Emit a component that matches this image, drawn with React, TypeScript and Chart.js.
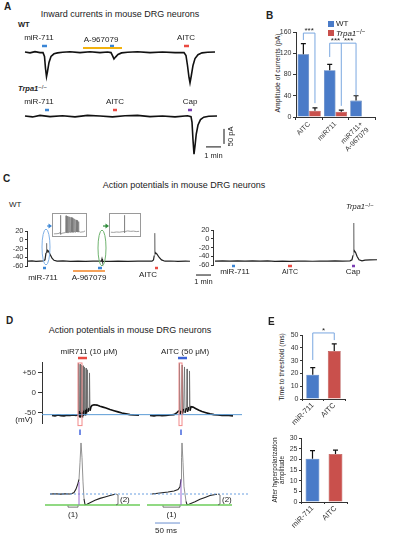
import React, { useEffect, useRef } from 'react';
import { Chart, registerables } from 'chart.js';

Chart.register(...registerables);

const FONT = '"Liberation Sans", Arial, Helvetica, sans-serif';
Chart.defaults.font.family = FONT;
Chart.defaults.color = '#333';

// ---------------- DATA ----------------
// Panel A: inward currents (time in s, current in pA)
const aWtTime = [0, 20, 40, 60, 72, 78, 82, 86, 90, 96, 104, 116, 130, 150, 180, 220, 260, 300, 330, 344, 350, 356, 362, 372, 386, 410, 450, 500, 550, 600, 636, 644, 650, 656, 660, 665, 672, 680, 692, 708, 730, 760];
const aWtCurrent = [0, -3, 1, -2, -2, -15, -55, -82, -65, -35, -15, -6, -3, -1, 1, -2, 1, -2, 0, -2, -12, -23, -17, -8, -3, -1, 1, -2, 0, -2, -2, -12, -45, -85, -103, -80, -45, -22, -9, -3, -1, 0];
const aKoTime = [0, 30, 60, 100, 150, 200, 250, 300, 350, 400, 450, 500, 550, 600, 650, 664, 668, 672, 676, 680, 685, 692, 702, 715, 735, 768];
const aKoCurrent = [0, -3, 2, -2, 1, -3, 2, 0, -3, 1, 2, -2, 0, -3, 1, -2, -20, -80, -127, -100, -60, -30, -12, -4, -1, 0];
const aWtAgonist = ['miR-711', 'miR-711', 'AITC'];
const aWtAgonistOn = [68, 340, 636];
const aWtAgonistOff = [88, 356, 656];
const aWtAntagonist = ['A-967079'];
const aWtAntagonistOn = [232];
const aWtAntagonistOff = [388];
const aKoAgonist = ['miR-711', 'AITC', 'Cap'];
const aKoAgonistOn = [80, 352, 652];
const aKoAgonistOff = [96, 368, 668];
const aScaleTime = 60; // 1 min
const aScaleCurrent = 50; // 50 pA

// Panel B: amplitude of currents (pA)
const bCategories = ['AITC', 'miR711', ['miR711+', 'A-967079']];
const bSeries = ['WT', 'Trpa1'];
const bWt = [118, 88, 31];
const bWtErr = [20, 11, 9];
const bKo = [12, 10, null];
const bKoErr = [5, 3, null];

// Panel C: action potentials (time in s, voltage in mV)
const cWtTime = [0, 16, 32, 48, 60, 68, 72, 74, 75, 78, 82, 88, 96, 104, 116, 140, 170, 200, 230, 260, 290, 294, 296, 298, 300, 330, 360, 400, 440, 470, 496, 502, 505, 507, 508, 511, 516, 524, 534, 548, 570, 600, 630, 648];
const cWtVoltage = [-49, -48.5, -49.5, -49, -48.6, -46, -30, -8, -30, -24, -26, -33, -42, -47, -49, -48.5, -49.2, -48.8, -49.5, -49, -48.6, -49, -44, -49, -49.2, -49.5, -48.8, -49.3, -49, -48.7, -49, -46, -36, 15, -32, -30, -33, -40, -46, -49, -48.6, -49.3, -48.8, -49.2];
const cKoTime = [0, 30, 60, 90, 120, 150, 180, 210, 240, 270, 300, 330, 360, 390, 420, 450, 480, 510, 540, 548, 552, 555, 556, 558, 562, 568, 576, 588, 600, 620, 648];
const cKoVoltage = [-51, -50.5, -51.3, -50.7, -51, -50.4, -51.2, -50.8, -51.5, -51, -51.6, -51.2, -50.9, -51.4, -51, -51.3, -50.8, -51.2, -50.6, -48, -38, 36, -30, -28, -31, -40, -48, -50.5, -49, -48.5, -48];
const cWtAgonist = ['miR-711', 'miR-711', 'AITC'];
const cWtAgonistOn = [60, 280, 508];
const cWtAgonistOff = [72, 296, 520];
const cWtAntagonistOn = [180];
const cWtAntagonistOff = [308];
const cKoAgonist = ['miR-711', 'AITC', 'Cap'];
const cKoAgonistOn = [68, 292, 548];
const cKoAgonistOff = [80, 308, 560];
const cTicks = [-60, 20];
const inset1Time = [0, 10, 18, 20, 21, 22, 26, 36, 38, 39, 40, 42, 43, 44, 46, 47, 48, 50, 51, 52, 54, 55, 56, 58, 59, 60, 62, 63, 64, 66, 67, 68, 70, 71, 72, 74, 75, 76, 78, 79, 80, 82, 85, 90, 95, 100];
const inset1Voltage = [-58, -57, -55, -50, 30, -60, -55, -52, -50, 28, -52, -50, 26, -52, -50, 24, -52, -49, 22, -51, -49, 20, -51, -48, 18, -50, -48, 15, -50, -48, 12, -50, -48, 8, -49, -47, 5, -49, -47, 0, -49, -48, -50, -49, -48, -44];
const inset2Time = [0, 10, 20, 30, 40, 45, 47, 48, 49, 52, 60, 70, 80, 90, 100];
const inset2Voltage = [-50, -51, -49, -50, -48, -47, -45, 30, -52, -46, -44, -46, -45, -47, -46];

// Panel D: action potentials (s / ms, mV)
const dMirTime = [1.0, 1.3, 1.6, 1.9, 2.2, 2.5, 2.8, 3.1, 3.4, 3.6, 3.65, 3.7, 3.75, 3.8, 3.85, 3.9, 3.95, 4.0, 4.05, 4.1, 4.15, 4.2, 4.25, 4.3, 4.35, 4.4, 4.45, 4.5, 4.55, 4.6, 4.7, 4.75, 4.8, 4.9, 5.0, 5.2, 5.5, 5.8, 6.1, 6.4, 6.8, 7.2, 7.6, 8.0, 8.4, 8.8, 9.2, 9.7];
const dMirVoltage = [-57, -58, -56, -57.5, -58, -56.5, -57, -56, -57, -55, 75, -60, -45, 72, -62, -50, 70, -60, -48, 68, -58, -45, 65, -55, -42, 62, -52, -40, 58, -48, -38, 50, -45, -35, -32, -30, -31, -34, -36, -38, -42, -45, -48, -51, -53, -55, -56, -56.5];
const dAitcTime = [10.8, 11.2, 11.6, 12.0, 12.4, 12.8, 13.2, 13.5, 13.7, 13.75, 13.8, 13.9, 14.0, 14.05, 14.15, 14.25, 14.3, 14.45, 14.5, 14.55, 14.7, 14.75, 14.8, 14.9, 15.1, 15.4, 15.7, 16.0, 16.4, 16.8, 17.2, 17.6, 18.0, 18.5, 19.1];
const dAitcVoltage = [-57, -58, -56.5, -57.5, -57, -56, -55, -50, -45, 75, -55, -45, 70, -52, -40, 65, -50, -38, 60, -48, -36, 55, -45, -35, -36, -40, -44, -47, -50, -53, -55, -56, -57, -56.5, -58];
const dTicks = [-50, 0, 50];
const dTickLabels = ['-50', '0', '+50'];
const dMirApTime = [20, 30, 40, 50, 60, 64, 68, 72, 76, 78, 80, 82, 84, 86, 88, 90, 94, 100, 110, 120, 130, 140, 150];
const dMirApVoltage = [-55, -54.5, -55.2, -54.8, -55, -54, -52, -45, -33, -25, 10, 50, 20, -30, -65, -77, -76, -73, -68, -64, -61, -58, -55.5];
const dAitcApTime = [224, 240, 256, 268, 276, 280, 282, 283, 284, 286, 288, 292, 294, 298, 310, 320, 330, 340, 354];
const dAitcApVoltage = [-55, -53, -51, -49, -46, -40, -25, 20, 50, 10, -40, -70, -77, -76, -71, -66, -62, -58, -55.5];
const dRestLevel = -55;
const dAhpLevel = -77.5;
const dScaleMs = 50;

// Panel E
const eCategories = ['miR-711', 'AITC'];
const eThreshold = [19, 37.5];
const eThresholdErr = [5.5, 5.5];
const eAhp = [20.3, 22.5];
const eAhpErr = [3.8, 1.8];

// ---------------- STYLES ----------------
const BLUE = '#4a7bc8';
const BLUE_EDGE = '#3563a9';
const RED = '#c9504c';
const RED_EDGE = '#a63d39';
const MARK_BLUE = '#3a86d6';
const MARK_RED = '#ea4a42';
const PURPLE = '#7b3fb3';
const GOLD = '#f2b20f';
const ORANGE = '#f5a25a';
const BRACKET = '#7aa7e0';
const drugColor: Record<string, string> = { 'miR-711': MARK_BLUE, AITC: MARK_RED, Cap: PURPLE };

type Item = { [k: string]: any };

function overlay(items: Item[]) {
  return {
    id: 'overlay',
    afterDraw(chart: any) {
      const ctx = chart.ctx as CanvasRenderingContext2D;
      const X = (v: number) => chart.scales.x.getPixelForValue(v);
      const Y = (v: number, id: string) => chart.scales[id].getPixelForValue(v);
      for (const it of items) {
        const yid = it.axis || 'y';
        ctx.save();
        ctx.strokeStyle = it.color || '#000';
        ctx.fillStyle = it.color || '#000';
        ctx.lineWidth = it.width || 1;
        ctx.setLineDash(it.dash || []);
        if (it.kind === 'seg') {
          ctx.beginPath();
          ctx.moveTo(X(it.x1), Y(it.y1, yid));
          ctx.lineTo(X(it.x2), Y(it.y2, yid));
          ctx.stroke();
        } else if (it.kind === 'path') {
          ctx.beginPath();
          it.pts.forEach((p: number[], i: number) => {
            if (i === 0) ctx.moveTo(X(p[0]), Y(p[1], yid));
            else ctx.lineTo(X(p[0]), Y(p[1], yid));
          });
          ctx.stroke();
        } else if (it.kind === 'rect') {
          const x1 = X(it.x1), x2 = X(it.x2), y1 = Y(it.y1, yid), y2 = Y(it.y2, yid);
          ctx.strokeRect(Math.min(x1, x2), Math.min(y1, y2), Math.abs(x2 - x1), Math.abs(y2 - y1));
        } else if (it.kind === 'ellipse') {
          const cx = X(it.x), cy = Y(it.y, yid);
          const rx = Math.abs(X(it.x + it.rx) - cx), ry = Math.abs(Y(it.y + it.ry, yid) - cy);
          ctx.beginPath();
          ctx.ellipse(cx, cy, rx, ry, 0, 0, Math.PI * 2);
          ctx.stroke();
        } else if (it.kind === 'arrow') {
          const x1 = X(it.x1), x2 = X(it.x2), y = Y(it.y, yid);
          ctx.beginPath();
          ctx.moveTo(x1, y);
          ctx.lineTo(x2 - 3, y);
          ctx.stroke();
          ctx.beginPath();
          ctx.moveTo(x2, y);
          ctx.lineTo(x2 - 3.5, y - 2.5);
          ctx.lineTo(x2 - 3.5, y + 2.5);
          ctx.closePath();
          ctx.fill();
        } else if (it.kind === 'text') {
          ctx.font = it.font || `8px ${FONT}`;
          ctx.fillStyle = it.color || '#222';
          ctx.textAlign = it.align || 'center';
          ctx.textBaseline = 'middle';
          const x = X(it.x) + (it.dx || 0), y = Y(it.y, yid);
          ctx.translate(x, y);
          if (it.rotate) ctx.rotate(it.rotate);
          ctx.fillText(it.text, 0, 0);
        }
        ctx.restore();
      }
    },
  };
}

function barExtras(errs: (number | null)[][], brackets: any[]) {
  return {
    id: 'barExtras',
    afterDatasetsDraw(chart: any) {
      const ctx = chart.ctx as CanvasRenderingContext2D;
      const ys = chart.scales.y;
      ctx.save();
      errs.forEach((arr, di) => {
        const meta = chart.getDatasetMeta(di);
        arr.forEach((e, j) => {
          const val = chart.data.datasets[di].data[j];
          if (e == null || val == null) return;
          const x = meta.data[j].x;
          const y0 = ys.getPixelForValue(val);
          const y1 = ys.getPixelForValue(val + e);
          ctx.strokeStyle = '#111';
          ctx.lineWidth = 1.2;
          ctx.beginPath();
          ctx.moveTo(x, y0);
          ctx.lineTo(x, y1);
          ctx.moveTo(x - 2.5, y1);
          ctx.lineTo(x + 2.5, y1);
          ctx.stroke();
        });
      });
      brackets.forEach((b) => {
        const xs = b.legs.map((l: number[]) => chart.getDatasetMeta(l[0]).data[l[1]].x);
        const top = ys.getPixelForValue(b.top);
        ctx.strokeStyle = BRACKET;
        ctx.lineWidth = 1;
        ctx.beginPath();
        ctx.moveTo(xs[0], top);
        ctx.lineTo(xs[xs.length - 1], top);
        b.legs.forEach((l: number[], k: number) => {
          ctx.moveTo(xs[k], top);
          ctx.lineTo(xs[k], ys.getPixelForValue(l[2]));
        });
        ctx.stroke();
        ctx.fillStyle = '#222';
        ctx.font = `8px ${FONT}`;
        ctx.textAlign = 'center';
        ctx.textBaseline = 'middle';
        b.labels.forEach((lb: any[]) => {
          ctx.fillText(lb[2], (xs[lb[0]] + xs[lb[1]]) / 2, top - 2.5);
        });
      });
      ctx.restore();
    },
  };
}

function lineDs(t: number[], v: number[], color: string, width: number, axis = 'y', spikeColor?: string) {
  const ds: any = {
    data: t.map((x, i) => ({ x, y: v[i] })),
    borderColor: color,
    borderWidth: width,
    pointRadius: 0,
    tension: 0,
    fill: false,
    yAxisID: axis,
    clip: false as any,
  };
  if (spikeColor) {
    ds.segment = {
      borderColor: (c: any) => (Math.abs(c.p1.y - c.p0.y) > 8 ? spikeColor : undefined),
      borderWidth: (c: any) => (Math.abs(c.p1.y - c.p0.y) > 8 ? 0.8 : undefined),
    };
  }
  return ds;
}

function baseOptions(scales: Record<string, any>, padding: any = 0) {
  const s: any = {};
  for (const k of Object.keys(scales)) s[k] = { type: 'linear', display: false, ...scales[k] };
  return {
    responsive: false,
    maintainAspectRatio: false,
    animation: false,
    events: [],
    devicePixelRatio: 1,
    layout: { padding },
    plugins: { legend: { display: false }, tooltip: { enabled: false } },
    scales: s,
  };
}

function visibleY(min: number, max: number, step: number, width: number, fontSize: number, tickLen: number, fixedTicks?: number[], showLabels = true) {
  return {
    display: true,
    min,
    max,
    ticks: {
      display: showLabels,
      stepSize: step,
      includeBounds: false,
      autoSkip: false,
      font: { size: fontSize },
      color: '#333',
      padding: 1.5,
    },
    grid: { drawOnChartArea: false, tickLength: tickLen, color: '#333' },
    border: { color: '#333', width: 1 },
    ...(fixedTicks
      ? {
          afterBuildTicks: (s: any) => {
            s.ticks = fixedTicks.map((value) => ({ value }));
          },
        }
      : {}),
    afterFit: (s: any) => {
      s.width = width;
    },
  };
}

// ---------------- CHART CONFIGS ----------------
function panelA() {
  const items: Item[] = [];
  aWtAgonist.forEach((d, i) =>
    items.push({ kind: 'seg', x1: aWtAgonistOn[i], x2: aWtAgonistOff[i], y1: 20, y2: 20, color: drugColor[d], width: 2.5 })
  );
  aWtAntagonist.forEach((d, i) =>
    items.push({ kind: 'seg', x1: aWtAntagonistOn[i], x2: aWtAntagonistOff[i], y1: 13, y2: 13, color: GOLD, width: 2 })
  );
  items.push({ kind: 'text', text: aWtAgonist[0], x: 56, y: 47 });
  items.push({ kind: 'text', text: aWtAntagonist[0], x: 304, y: 40 });
  items.push({ kind: 'text', text: aWtAgonist[2], x: 644, y: 47 });
  aKoAgonist.forEach((d, i) => {
    items.push({ kind: 'seg', x1: aKoAgonistOn[i], x2: aKoAgonistOff[i], y1: 20, y2: 20, color: drugColor[d], width: 2.5, axis: 'y2' });
  });
  items.push({ kind: 'text', text: aKoAgonist[0], x: 56, y: 47, axis: 'y2' });
  items.push({ kind: 'text', text: aKoAgonist[1], x: 360, y: 47, axis: 'y2' });
  items.push({ kind: 'text', text: aKoAgonist[2], x: 660, y: 47, axis: 'y2' });
  // scale bars
  items.push({ kind: 'seg', x1: 724, x2: 724 + aScaleTime, y1: -103, y2: -103, color: '#111', width: 1, axis: 'y2' });
  items.push({ kind: 'text', text: '1 min', x: 754, y: -133, font: `7.5px ${FONT}`, axis: 'y2' });
  items.push({ kind: 'seg', x1: 796, x2: 796, y1: -43, y2: -43 - aScaleCurrent, color: '#111', width: 1, axis: 'y2' });
  items.push({ kind: 'text', text: '50 pA', x: 822, y: -68, font: `7.5px ${FONT}`, rotate: -Math.PI / 2, axis: 'y2' });
  return {
    type: 'line',
    data: {
      datasets: [lineDs(aWtTime, aWtCurrent, '#111', 1.6), lineDs(aKoTime, aKoCurrent, '#111', 1.6, 'y2')],
    },
    options: baseOptions({ x: { min: -40, max: 860 }, y: { min: -376.7, max: 73.3 }, y2: { min: -163.3, max: 286.7 } }),
    plugins: [overlay(items)],
  };
}

function panelB() {
  return {
    type: 'bar',
    data: {
      labels: bCategories,
      datasets: [
        { label: bSeries[0], data: bWt, backgroundColor: BLUE, borderColor: BLUE_EDGE, borderWidth: 0.6 },
        { label: bSeries[1], data: bKo, backgroundColor: RED, borderColor: RED_EDGE, borderWidth: 0.6 },
      ],
    },
    options: {
      ...baseOptions({}, { top: 17, right: 5 }),
      datasets: { bar: { categoryPercentage: 0.88, barPercentage: 1 } },
      scales: {
        x: {
          ticks: { font: { size: 7 }, color: '#333', maxRotation: 45, minRotation: 45, padding: 0, autoSkip: false },
          grid: { drawOnChartArea: false, tickLength: 3, color: '#333', offset: true },
          border: { color: '#333' },
          afterFit: (s: any) => {
            s.height = 53;
          },
        },
        y: visibleY(0, 160, 40, 16, 7, 3),
      },
    },
    plugins: [
      barExtras([bWtErr, bKoErr], [
        { legs: [[0, 0, 145], [1, 0, 26]], top: 158, labels: [[0, 1, '***']] },
        { legs: [[0, 1, 113], [1, 1, 21], [0, 2, 41]], top: 139, labels: [[0, 1, '***'], [1, 2, '***']] },
      ]),
    ],
  };
}

function panelCLeft() {
  const items: Item[] = [];
  cWtAgonist.forEach((d, i) =>
    items.push({ kind: 'seg', x1: cWtAgonistOn[i], x2: cWtAgonistOff[i], y1: -64.6, y2: -64.6, color: drugColor[d], width: 2.5 })
  );
  items.push({ kind: 'seg', x1: cWtAntagonistOn[0], x2: cWtAntagonistOff[0], y1: -71.4, y2: -71.4, color: ORANGE, width: 2 });
  items.push({ kind: 'text', text: 'miR-711', x: 60, y: -87.4 });
  items.push({ kind: 'text', text: 'A-967079', x: 244, y: -87.4 });
  items.push({ kind: 'text', text: 'AITC', x: 480, y: -81 });
  items.push({ kind: 'ellipse', x: 72, y: -16.6, rx: 16, ry: 41, color: '#7fb0e6', width: 1 });
  items.push({ kind: 'ellipse', x: 296, y: -18.9, rx: 16, ry: 41, color: '#6fb36f', width: 1 });
  items.push({ kind: 'arrow', x1: 76, x2: 96, y: 31.4, color: '#3a86d6', width: 1.2 });
  items.push({ kind: 'arrow', x1: 300, x2: 324, y: 31.4, color: '#2e8b3a', width: 1.2 });
  return {
    type: 'line',
    data: { datasets: [lineDs(cWtTime, cWtVoltage, '#222', 1.2, 'y', '#777')] },
    options: baseOptions(
      { x: { min: -4, max: 688 }, y: visibleY(cTicks[0], cTicks[1], 20, 22, 7.5, 2) },
      { top: 31, bottom: 24 }
    ),
    plugins: [overlay(items)],
  };
}

function panelCRight() {
  const items: Item[] = [];
  cKoAgonist.forEach((d, i) =>
    items.push({ kind: 'seg', x1: cKoAgonistOn[i], x2: cKoAgonistOff[i], y1: -62.3, y2: -62.3, color: drugColor[d], width: 2.5 })
  );
  items.push({ kind: 'text', text: 'miR-711', x: 80, y: -76 });
  items.push({ kind: 'text', text: 'AITC', x: 300, y: -76, font: `7px ${FONT}` });
  items.push({ kind: 'text', text: 'Cap', x: 552, y: -76 });
  items.push({ kind: 'seg', x1: -76, x2: -76 + aScaleTime, y1: -82.9, y2: -82.9, color: '#111', width: 1 });
  items.push({ kind: 'text', text: '1 min', x: -46, y: -98.9, font: `7.5px ${FONT}` });
  return {
    type: 'line',
    data: { datasets: [lineDs(cKoTime, cKoVoltage, '#222', 1.2, 'y', '#777')] },
    options: baseOptions(
      { x: { min: -8, max: 700 }, y: visibleY(cTicks[0], cTicks[1], 20, 23, 7.5, 2) },
      { top: 30, bottom: 25 }
    ),
    plugins: [overlay(items)],
  };
}

function insetChart(t: number[], v: number[]) {
  return {
    type: 'line',
    data: { datasets: [lineDs(t, v, '#777', 0.7)] },
    options: baseOptions({ x: { min: -3, max: 103 }, y: { min: -68, max: 36 } }),
  };
}

function panelDTop() {
  const items: Item[] = [];
  dTicks.forEach((v, i) =>
    items.push({ kind: 'text', text: dTickLabels[i], x: 0, dx: -6, y: v, align: 'right', font: `8px ${FONT}`, color: '#333' })
  );
  items.push({ kind: 'seg', x1: 0, x2: 20, y1: dRestLevel, y2: dRestLevel, color: '#5b9bd5', width: 1 });
  items.push({ kind: 'rect', x1: 3.6, x2: 4.0, y1: 75, y2: -82.5, color: '#f28a8a', width: 1 });
  items.push({ kind: 'rect', x1: 13.7, x2: 14.0, y1: 75, y2: -82.5, color: '#f28a8a', width: 1 });
  items.push({ kind: 'seg', x1: 3.6, x2: 4.5, y1: 87.5, y2: 87.5, color: MARK_RED, width: 2.5 });
  items.push({ kind: 'seg', x1: 13.6, x2: 14.5, y1: 87.5, y2: 87.5, color: '#3b63d8', width: 2.5 });
  items.push({ kind: 'text', text: 'miR711 (10 μM)', x: 4.7, y: 102.5 });
  items.push({ kind: 'text', text: 'AITC (50 μM)', x: 14.3, y: 102.5 });
  items.push({ kind: 'seg', x1: 3.8, x2: 3.8, y1: -92.5, y2: -106, color: '#4466dd', width: 1.5 });
  items.push({ kind: 'seg', x1: 13.9, x2: 13.9, y1: -92.5, y2: -106, color: '#4466dd', width: 1.5 });
  return {
    type: 'line',
    data: {
      datasets: [
        lineDs(dMirTime, dMirVoltage, '#111', 1.6, 'y', '#6a6a6a'),
        lineDs(dAitcTime, dAitcVoltage, '#111', 1.6, 'y', '#6a6a6a'),
      ],
    },
    options: baseOptions(
      {
        x: { min: 0, max: 20.8 },
        y: visibleY(-76, 77.5, 50, 32, 8, 4, dTicks, false),
      },
      { top: 17, bottom: 17 }
    ),
    plugins: [overlay(items)],
  };
}

function panelDBottom() {
  const items: Item[] = [];
  items.push({ kind: 'seg', x1: 20, x2: 420, y1: dRestLevel, y2: dRestLevel, color: '#6a9fe0', width: 1, dash: [2, 2] });
  items.push({ kind: 'seg', x1: 10, x2: 200, y1: dAhpLevel, y2: dAhpLevel, color: '#6ccc5a', width: 1.5 });
  items.push({ kind: 'seg', x1: 214, x2: 384, y1: dAhpLevel, y2: dAhpLevel, color: '#6ccc5a', width: 1.5 });
  items.push({ kind: 'seg', x1: 78, x2: 78, y1: -30, y2: dAhpLevel, color: '#9a6ad0', width: 1 });
  items.push({ kind: 'seg', x1: 282, x2: 282, y1: -25, y2: dAhpLevel, color: '#9a6ad0', width: 1 });
  [[152, 156], [356, 360]].forEach(([a, b]) => {
    items.push({ kind: 'path', pts: [[a, dRestLevel], [b, dRestLevel - 2], [b, dAhpLevel + 2], [a, dAhpLevel]], color: '#555', width: 0.8 });
    items.push({ kind: 'text', text: '(2)', x: b + 4, y: -66, align: 'left', font: `8px ${FONT}` });
  });
  [[56, 76], [246, 280]].forEach(([a, b]) => {
    items.push({ kind: 'path', pts: [[a, -79], [a, -82], [b, -82], [b, -79]], color: '#555', width: 0.8 });
    items.push({ kind: 'text', text: '(1)', x: (a + b) / 2, y: -98, font: `8px ${FONT}` });
  });
  items.push({ kind: 'seg', x1: 230, x2: 230 + dScaleMs, y1: -114.7, y2: -114.7, color: '#6a8fd0', width: 1 });
  items.push({ kind: 'text', text: '50 ms', x: 252, y: -131, font: `8px ${FONT}` });
  return {
    type: 'line',
    data: {
      datasets: [
        lineDs(dMirApTime, dMirApVoltage, '#222', 1.1, 'y', '#777'),
        lineDs(dAitcApTime, dAitcApVoltage, '#222', 1.1, 'y', '#777'),
      ],
    },
    options: baseOptions({ x: { min: 0, max: 430 }, y: { min: -145.5, max: 60.2 } }),
    plugins: [overlay(items)],
  };
}

function eBar(values: number[], errs: number[], yMax: number, step: number, yWidth: number, xHeight: number, padTop: number, brackets: any[]) {
  return {
    type: 'bar',
    data: {
      labels: eCategories,
      datasets: [{ data: values, backgroundColor: [BLUE, RED], borderColor: [BLUE_EDGE, RED_EDGE], borderWidth: 0.6 }],
    },
    options: {
      ...baseOptions({}, { top: padTop, right: 5 }),
      datasets: { bar: { categoryPercentage: 0.6, barPercentage: 1 } },
      scales: {
        x: {
          ticks: { font: { size: 7.5 }, color: '#333', maxRotation: 45, minRotation: 45, padding: 0, autoSkip: false },
          grid: { drawOnChartArea: false, tickLength: 2, color: '#333', offset: true },
          border: { color: '#333' },
          afterFit: (s: any) => {
            s.height = xHeight;
          },
        },
        y: visibleY(0, yMax, step, yWidth, 7, 2),
      },
    },
    plugins: [barExtras([errs], brackets)],
  };
}

// ---------------- COMPONENTS ----------------
function ChartBox({ left, top, width, height, build, border }: any) {
  const ref = useRef<HTMLCanvasElement>(null);
  useEffect(() => {
    const chart = new Chart(ref.current as HTMLCanvasElement, build());
    return () => chart.destroy();
  }, []);
  const inner = border ? { w: width - 2, h: height - 2 } : { w: width, h: height };
  return (
    <div
      style={{
        position: 'absolute',
        left,
        top,
        width,
        height,
        boxSizing: 'border-box',
        border: border || 'none',
        background: border ? '#fff' : 'transparent',
      }}
    >
      <canvas ref={ref} width={inner.w} height={inner.h} style={{ width: inner.w, height: inner.h, display: 'block' }} />
    </div>
  );
}

function Txt({ x, y, children, size = 8, align = 'left', weight = 400, italic = false, rotate = 0, color = '#222' }: any) {
  const tx = align === 'center' ? '-50%' : align === 'right' ? '-100%' : '0';
  return (
    <div
      style={{
        position: 'absolute',
        left: x,
        top: y,
        fontSize: size,
        fontWeight: weight,
        fontStyle: italic ? 'italic' : 'normal',
        lineHeight: 1.15,
        whiteSpace: 'nowrap',
        color,
        textAlign: 'center',
        transform: `translate(${tx}, -50%)${rotate ? ` rotate(${rotate}deg)` : ''}`,
        transformOrigin: align === 'center' ? '50% 50%' : '0 50%',
      }}
    >
      {children}
    </div>
  );
}

const Ko = ({ bold = false }: any) => (
  <span>
    <span style={{ fontStyle: 'italic', fontWeight: bold ? 700 : 400 }}>Trpa1</span>
    <sup style={{ fontSize: '0.8em', verticalAlign: '0.35em', fontWeight: 400 }}>−/−</sup>
  </span>
);

export default function App() {
  useEffect(() => {
    document.body.style.margin = '0';
  }, []);
  return (
    <div
      style={{
        position: 'fixed',
        left: 0,
        top: 0,
        width: 393,
        height: 544,
        background: '#fff',
        overflow: 'hidden',
        fontFamily: FONT,
        color: '#222',
      }}
    >
      {/* Panel A */}
      <Txt x={4} y={7} size={10} weight={700}>A</Txt>
      <Txt x={120} y={13.5} size={9} align="center">Inward currents in mouse DRG neurons</Txt>
      <Txt x={18} y={24.5} size={7.5} weight={700}>WT</Txt>
      <Txt x={18} y={89} size={7.5} weight={700}><Ko bold /></Txt>
      <ChartBox left={15} top={30} width={225} height={135} build={panelA} />

      {/* Panel B */}
      <Txt x={266} y={15.5} size={10} weight={700}>B</Txt>
      <Txt x={278} y={73} size={6.8} align="center" rotate={-90}>Amplitude of currents (pA)</Txt>
      <ChartBox left={280} top={15} width={100} height={155} build={panelB} />
      <div style={{ position: 'absolute', left: 328, top: 21, width: 6, height: 6, background: BLUE }} />
      <Txt x={336} y={24} size={8}>{bSeries[0]}</Txt>
      <div style={{ position: 'absolute', left: 328, top: 30, width: 6, height: 6, background: RED }} />
      <Txt x={336} y={33} size={8}><Ko /></Txt>

      {/* Panel C */}
      <Txt x={3} y={179} size={10} weight={700}>C</Txt>
      <Txt x={184} y={185} size={9} align="center">Action potentials in mouse DRG neurons</Txt>
      <Txt x={9} y={205} size={8}>WT</Txt>
      <Txt x={346} y={207} size={7.5}><Ko /></Txt>
      <ChartBox left={5} top={200} width={195} height={90} build={panelCLeft} />
      <ChartBox left={190} top={200} width={200} height={90} build={panelCRight} />
      <ChartBox left={52} top={213} width={35} height={24} border="1px solid #9a9a9a" build={() => insetChart(inset1Time, inset1Voltage)} />
      <ChartBox left={109} top={213} width={32} height={24} border="1px solid #9a9a9a" build={() => insetChart(inset2Time, inset2Voltage)} />

      {/* Panel D */}
      <Txt x={6} y={321} size={10} weight={700}>D</Txt>
      <Txt x={130} y={330} size={9} align="center">Action potentials in mouse DRG neurons</Txt>
      <ChartBox left={10} top={345} width={240} height={95} build={panelDTop} />
      <Txt x={24} y={420} size={8} align="center">(mV)</Txt>
      <ChartBox left={40} top={438} width={215} height={100} build={panelDBottom} />

      {/* Panel E */}
      <Txt x={268} y={322} size={10} weight={700}>E</Txt>
      <Txt x={282} y={367} size={6.8} align="center" rotate={-90}>Time to threshold (ms)</Txt>
      <Txt x={278} y={470} size={6.5} align="center" rotate={-90}>
        After hyperpolarization
        <br />
        amplitude
      </Txt>
      <ChartBox
        left={286}
        top={325}
        width={64}
        height={105}
        build={() => eBar(eThreshold, eThresholdErr, 50, 10, 16, 31, 10, [{ legs: [[0, 0, 30.5], [0, 1, 46]], top: 51.6, labels: [[0, 1, '*']] }])}
      />
      <ChartBox left={286} top={430} width={66} height={105} build={() => eBar(eAhp, eAhpErr, 30, 5, 15, 33, 8, [])} />
    </div>
  );
}
